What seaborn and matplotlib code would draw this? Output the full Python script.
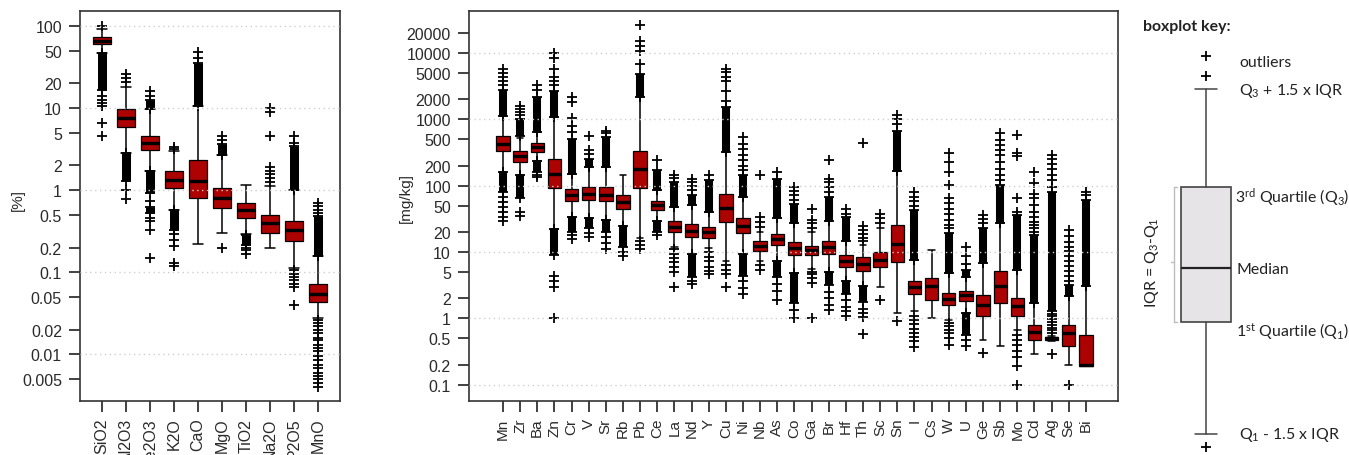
import matplotlib
matplotlib.use("Agg")
import matplotlib.pyplot as plt
from matplotlib.ticker import NullLocator
import numpy as np
import pandas as pd
import seaborn as sns

# ---------------------------------------------------------------------------
# major oxides [%]  (five-number summaries)
# ---------------------------------------------------------------------------
ox_names = ["SiO2", "Al2O3", "Fe2O3", "K2O", "CaO", "MgO", "TiO2", "Na2O", "P2O5", "MnO"]
ox_lo = [47, 2.8, 1.7, 0.58, 0.22, 0.30, 0.29, 0.20, 0.113, 0.028]
ox_q1 = [60, 5.8, 3.1, 1.06, 0.80, 0.60, 0.46, 0.30, 0.24, 0.043]
ox_med = [66, 7.6, 3.8, 1.34, 1.28, 0.80, 0.57, 0.40, 0.33, 0.055]
ox_q3 = [73, 9.8, 4.6, 1.70, 2.35, 1.06, 0.69, 0.50, 0.425, 0.071]
ox_hi = [92, 18, 9.6, 3.0, 10.5, 2.7, 1.17, 1.11, 1.0, 0.156]
# runs of outliers so dense they merge into a bar: (low, high)
ox_dense = [
    [(16.7, 47)],
    [(1.3, 2.8)],
    [(9.6, 12.6), (0.92, 1.7), (0.53, 0.62)],
    [(0.33, 0.58)],
    [(10.5, 35)],
    [(2.7, 3.6)],
    [(0.217, 0.287)],
    [],
    [(1.0, 3.4)],
    [(0.156, 0.48)],
]
# single outliers
ox_out = [
    [100, 14, 12.5, 11.5, 10.5, 6.6, 4.5],
    [20.5, 23, 26, 1.0, 0.78],
    [14, 16, 0.73, 0.46, 0.42, 0.33, 0.15],
    [3.2, 3.35, 0.29, 0.25, 0.21, 0.13, 0.12],
    [41, 48],
    [4.1, 4.6, 0.2],
    [0.2, 0.185, 0.165],
    [1.25, 1.4, 1.55, 1.7, 1.9, 4.5, 9, 10],
    [3.8, 4.5, 0.105, 0.095, 0.088, 0.08, 0.072, 0.066, 0.04],
    [0.52, 0.58, 0.64, 0.7, 0.026, 0.024, 0.022, 0.02, 0.018, 0.016, 0.015,
     0.013, 0.012, 0.011, 0.0095, 0.0085, 0.0075, 0.0068, 0.006, 0.0055, 0.005,
     0.0045, 0.004],
]
ox_ticks = [100, 50, 20, 10, 5, 2, 1, 0.5, 0.2, 0.1, 0.05, 0.02, 0.01, 0.005]
ox_grid = [100, 10, 1, 0.1, 0.01]

# ---------------------------------------------------------------------------
# trace elements [mg/kg]
# ---------------------------------------------------------------------------
tr_names = ["Mn", "Zr", "Ba", "Zn", "Cr", "V", "Sr", "Rb", "Pb", "Ce", "La", "Nd",
            "Y", "Cu", "Ni", "Nb", "As", "Co", "Ga", "Br", "Hf", "Th", "Sc", "Sn",
            "I", "Cs", "W", "U", "Ge", "Sb", "Mo", "Cd", "Ag", "Se", "Bi"]
tr_lo = [161, 144, 233, 22.3, 34, 32, 30, 24.7, 16.1, 29.4, 12.1, 9.3, 11.4, 7.2,
         9.3, 7.2, 7.2, 4.8, 5.6, 5.0, 3.6, 3.04, 2.94, 1.21, 1.28, 1.0, 0.96, 1.21,
         0.48, 0.38, 0.68, 0.29, 0.45, 0.20, 0.19]
tr_q1 = [329, 228, 322, 91, 58.6, 60.7, 59, 44.4, 93, 43, 19.9, 17.1, 16.5, 28,
         19.2, 10.5, 12.8, 8.87, 8.87, 9.3, 5.86, 5.22, 5.86, 7.0, 2.33, 1.92, 1.58,
         1.85, 1.08, 1.71, 1.08, 0.48, 0.48, 0.38, 0.19]
tr_med = [429, 280, 383, 152, 72.1, 73.8, 73, 56, 181, 51, 24.1, 20.8, 20.3, 46.6,
          25, 12.5, 15.8, 11.4, 10.8, 12.1, 7.2, 6.6, 7.6, 13.1, 2.94, 3.04, 1.99,
          2.23, 1.61, 3.04, 1.52, 0.62, 0.5, 0.6, 0.2]
tr_q3 = [553, 329, 444, 256, 88.7, 96, 96, 72.1, 329, 59.3, 29.4, 26.2, 24.1, 73.8,
         32.2, 14.7, 18.5, 14.4, 12.5, 14.7, 8.87, 8.27, 9.95, 25.6, 3.7, 4.05, 2.41,
         2.62, 2.28, 5.22, 2.03, 0.79, 0.52, 0.79, 0.57]
tr_hi = [1116, 522, 642, 1078, 152, 192, 192, 144, 2150, 85.7, 48, 51, 40.5, 322,
         68, 20.3, 32, 27.1, 20.3, 29.4, 14.7, 12.8, 22.8, 165, 7.6, 10.8, 4.8, 4.15,
         6.8, 27, 5.4, 1.71, 0.55, 2.15, 3.04]
tr_dense = [
    [(1116, 2800), (81, 161)],      # Mn
    [(560, 1000), (64, 144)],       # Zr
    [(642, 2150), (161, 233)],      # Ba
    [(1080, 2700), (9.1, 22.3)],    # Zn
    [(152, 510), (20.3, 34)],       # Cr
    [(192, 256), (22.8, 32)],       # V
    [(192, 541), (20.3, 30)],       # Sr
    [(12.1, 24.7)],                 # Rb
    [(2150, 4800)],                 # Pb
    [(85.7, 171), (20.3, 29.4)],    # Ce
    [(48, 114)],                    # La
    [(51, 72), (4.15, 9.3)],        # Nd
    [(40.5, 121)],                  # Y
    [(322, 1524)],                  # Cu
    [(68, 144), (4.3, 9.3)],        # Ni
    [],                             # Nb
    [(32, 128), (4.15, 7.2)],       # As
    [(27.1, 52), (1.71, 4.8)],      # Co
    [],                             # Ga
    [(29.4, 68), (3.2, 5.0)],       # Br
    [(14.7, 34), (2.33, 3.6)],      # Hf
    [(1.77, 3.04)],                 # Th
    [],                             # Sc
    [(165, 657)],                   # Sn
    [(7.6, 43)],                    # I
    [],                             # Cs
    [(4.8, 19.2)],                  # W
    [(4.15, 5.4), (0.57, 1.21)],    # U
    [(6.8, 22.8)],                  # Ge
    [(27, 102)],                    # Sb
    [(5.4, 36)],                    # Mo
    [(1.71, 18.1)],                 # Cd
    [(1.3, 80)],                    # Ag
    [(2.15, 3.2)],                  # Se
    [(3.04, 60)],                   # Bi
]
tr_out = [
    [3300, 3800, 4400, 5000, 5800, 68, 57, 48, 40, 34, 29.5],
    [1150, 1300, 1450, 1600, 40, 35],
    [2800, 3300, 145, 135],
    [3300, 3800, 4400, 5700, 8500, 10000, 4.3, 3.6, 3.0, 1.0],
    [640, 800, 1050, 1800, 2150, 18, 15.5],
    [300, 340, 560, 19.5, 17],
    [610, 660, 17, 13.6, 11],
    [10, 8.7],
    [6800, 10700, 12800, 15000, 26000, 14.5, 12.6, 11],
    [240, 18],
    [130, 143, 11, 9.3, 8.1, 7, 5.9, 5, 3],
    [86, 100, 115, 128, 3.6, 3.3],
    [143, 10, 8.5, 7.2, 6, 5.1, 4.6],
    [1900, 2700, 3800, 4400, 5100, 5800, 6.4, 5.4, 4.6, 3],
    [170, 200, 240, 285, 360, 430, 540, 3.6, 2.9, 2.3],
    [24, 28.5, 34, 147, 6.4, 5.4],
    [160, 3.3, 2.6, 1.9],
    [61, 72, 83, 96, 1.36, 1.0],
    [23, 27, 30, 44, 5, 4.6, 4.1, 3.4, 1.0],
    [80, 96, 114, 128, 240, 2.5, 2.0, 1.6, 1.36],
    [38, 44, 1.9, 1.5, 1.28, 1.1],
    [14.7, 16.5, 19, 21.5, 25, 440, 1.4, 1.2, 1.04, 0.59],
    [27, 32, 37, 1.9],
    [850, 1000, 1170, 0.91],
    [50, 58, 68, 80, 1.08, 0.93, 0.81, 0.7, 0.61, 0.52, 0.45, 0.37],
    [],
    [22.8, 25.5, 30, 37, 44, 54, 64, 102, 161, 228, 315, 0.86, 0.76, 0.68, 0.61, 0.51, 0.4],
    [6.6, 8.6, 11.7, 0.48, 0.38],
    [27, 31.5, 36, 0.3],
    [121, 147, 181, 228, 285, 340, 404, 482, 621],
    [40, 64, 280, 310, 580, 0.57, 0.48, 0.4, 0.32, 0.26, 0.19, 0.1],
    [20.3, 22.8, 25.5, 28.6, 34, 40.5, 51, 64, 76, 108, 163],
    [0.6, 0.66, 0.72, 0.8, 0.88, 0.97, 1.07, 1.18, 96, 121, 143, 181, 215, 248,
     285, 0.29],
    [3.6, 4.3, 5.1, 6.1, 7.2, 8.6, 10.2, 12.1, 14.4, 17.7, 21.5, 0.1],
    [72, 81],
]
tr_ticks = [20000, 10000, 5000, 2000, 1000, 500, 200, 100, 50, 20, 10, 5, 2, 1,
            0.5, 0.2, 0.1]
tr_grid = [10000, 1000, 100, 10, 1, 0.1]

RED = "#AC0202"
INK = "#333333"

sns.set_theme(style="ticks")
plt.rcParams["font.family"] = ["Liberation Sans", "DejaVu Sans"]
plt.rcParams["mathtext.fontset"] = "custom"
plt.rcParams["mathtext.rm"] = "Lato"
plt.rcParams["mathtext.it"] = "Lato:italic"
plt.rcParams["mathtext.bf"] = "Lato:bold"

fig = plt.figure(figsize=(13.49, 4.56), dpi=100)
W, H = 1349, 456
ax1 = fig.add_axes([80 / W, 54 / H, 260 / W, 390 / H])
ax2 = fig.add_axes([469 / W, 54 / H, 649 / W, 390 / H])


def draw_panel(ax, names, lo, q1, med, q3, hi, dense, out, bar_w):
    # five values per element -> quartiles and whisker ends come out exactly
    df = pd.DataFrame({
        "element": np.repeat(names, 5),
        "value": np.column_stack([lo, q1, med, q3, hi]).ravel(),
    })
    sns.boxplot(data=df, x="element", y="value", order=names, ax=ax,
                log_scale=True, whis=(0, 100), width=0.78, color=RED,
                saturation=1, linecolor="black", linewidth=0.9,
                medianprops={"color": "black", "linewidth": 2.4},
                whiskerprops={"color": "black", "linewidth": 1.1},
                capprops={"color": "black", "linewidth": 1.1})
    for i, (runs, pts) in enumerate(zip(dense, out)):
        for a, b in runs:
            ax.vlines(i, a, b, color="black", lw=bar_w, capstyle="butt", zorder=3)
            ax.plot([i, i], [a, b], ls="none", marker="+", ms=7, mew=1.3,
                    color="black", zorder=3)
        if pts:
            ax.plot([i] * len(pts), pts, ls="none", marker="+", ms=7, mew=1.3,
                    color="black", zorder=3)


draw_panel(ax1, ox_names, ox_lo, ox_q1, ox_med, ox_q3, ox_hi, ox_dense, ox_out, 6.5)
draw_panel(ax2, tr_names, tr_lo, tr_q1, tr_med, tr_q3, tr_hi, tr_dense, tr_out, 5.8)

for ax, ticks, grid, lim, xl in [
    (ax1, ox_ticks, ox_grid, (0.0027, 152), (-0.92, 9.92)),
    (ax2, tr_ticks, tr_grid, (0.057, 42700), (-1.98, 35.87)),
]:
    ax.set_ylim(*lim)
    ax.set_xlim(*xl)
    ax.set_yticks(ticks, labels=[f"{t:g}" for t in ticks])
    ax.yaxis.set_minor_locator(NullLocator())
    for g in grid:
        ax.axhline(g, color="#cfcfcf", lw=1, ls=(0, (1, 2.5)), zorder=10)
    ax.set_xlabel("")
    for s in ax.spines.values():
        s.set_visible(True)
        s.set_color(INK)
        s.set_linewidth(1.2)
    ax.tick_params(axis="both", length=8, width=1.3, color=INK,
                   labelcolor="#2a2a2a")
    ax.tick_params(axis="y", labelsize=11.5, pad=5)
    ax.tick_params(axis="x", labelrotation=90, pad=4)

ax1.tick_params(axis="x", labelsize=11.5)
ax2.tick_params(axis="x", labelsize=11)
ax1.set_ylabel("[%]", fontsize=11, color="#2a2a2a")
ax2.set_ylabel("[mg/kg]", fontsize=11, color="#2a2a2a")
ax1.yaxis.set_label_coords((25 - 80) / 260, (402 - 200) / 390)
ax2.yaxis.set_label_coords((413 - 469) / 649, (402 - 198) / 390)

# ---------------------------------------------------------------------------
# boxplot key (schematic, in its own pixel-like units)
# ---------------------------------------------------------------------------
kax = fig.add_axes([1140 / W, 0, 209 / W, 1])
kax.set_xlim(0, 209)
kax.set_ylim(456, 0)
kax.axis("off")
key_stats = [{"med": 269, "q1": 323, "q3": 188, "whislo": 435, "whishi": 90,
              "fliers": [57, 77, 448]}]
kax.bxp(key_stats, positions=[66], widths=[50], capwidths=[22], patch_artist=True,
        boxprops={"facecolor": "#e6e4e6", "edgecolor": "#444444", "linewidth": 1.2},
        medianprops={"color": "#222222", "linewidth": 1.6},
        whiskerprops={"color": "#444444", "linewidth": 1.1},
        capprops={"color": "#444444", "linewidth": 1.1},
        flierprops={"marker": "+", "markersize": 7, "markeredgewidth": 1.3,
                    "markeredgecolor": "black"})
kfont = {"family": ["Lato", "DejaVu Sans"], "fontsize": 11.4, "color": "#222222",
         "va": "center", "ha": "left"}
kax.text(3, 27, "boxplot key:", fontweight="bold", **kfont)
kax.text(99, 63, "outliers", **kfont)
kax.text(99, 91, r"Q$_3$ + 1.5 x IQR", **kfont)
kax.text(95, 198, r"3$^{\mathrm{rd}}$ Quartile (Q$_3$)", **kfont)
kax.text(96, 270, "Median", **kfont)
kax.text(96, 332, r"1$^{\mathrm{st}}$ Quartile (Q$_1$)", **kfont)
kax.text(99, 435, r"Q$_1$ - 1.5 x IQR", **kfont)
kax.plot([34, 34], [188, 323], color="#bdbdbd", lw=1)
kax.plot([34, 37], [188, 188], color="#bdbdbd", lw=1)
kax.plot([34, 37], [323, 323], color="#bdbdbd", lw=1)
kax.plot([31, 34], [263, 263], color="#bdbdbd", lw=1)
kax.text(12, 263, r"IQR = Q$_3$-Q$_1$", rotation=90,
         **{**kfont, "ha": "center"})

fig.savefig("out.png", dpi=100)
